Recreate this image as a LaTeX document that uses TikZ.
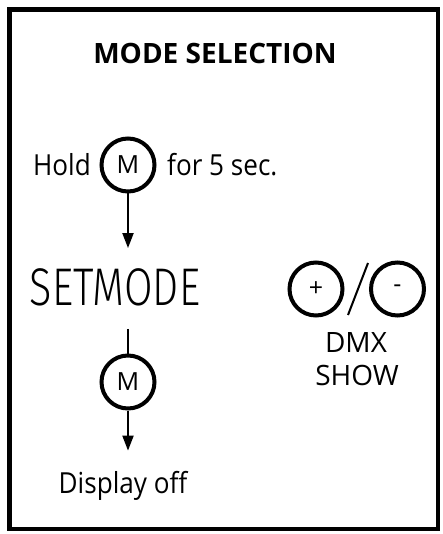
\documentclass[tikz,border=0pt]{standalone}
\usepackage{fontspec}
\setmainfont{Open Sans}
\newfontfamily\narrowfont{Open Sans}[FakeStretch=0.9]
\newfontfamily\lcdfont{Fira Sans Light}[FakeStretch=0.78]
\usetikzlibrary{arrows.meta}
\tikzset{
  btn/.style={circle, draw, line width=4pt, minimum size=53pt, inner sep=0pt},
  btntext/.style={font=\fontsize{25}{25}\selectfont},
  body/.style={font=\narrowfont\fontsize{29}{29}\selectfont, inner sep=0pt},
  label/.style={font=\fontsize{28}{28}\selectfont, inner sep=0pt},
  conn/.style={line width=2pt, -{Triangle[length=15pt,width=11pt]}},
  plainconn/.style={line width=2pt}
}
\begin{document}
\begin{tikzpicture}[x=1pt,y=-1pt]
\useasboundingbox (0,0) rectangle (442,534);
\draw[line width=4.5pt] (9.5,9.5) rectangle (438,529);
\node[font=\bfseries\fontsize{28}{28}\selectfont, inner sep=0pt] (title) at (215,53) {MODE SELECTION};
\node[body, anchor=base west] (hold) at (33,176) {Hold};
\node[btn, btntext] (m1) at (128,165) {M};
\node[body, anchor=base west] (for) at (167,176) {for 5 sec.};
\node[inner sep=0pt, font=\lcdfont\fontsize{53}{53}\selectfont] (set) at (115,287) {SETMODE};
\node[btn, btntext] (m2) at (128,382) {M};
\node[body, anchor=base] (disp) at (123,493) {Display off};
\draw[conn, shorten >=20pt] (m1.south) -- (m1.south |- set.north);
\draw[plainconn, shorten <=23pt] (m1.south |- set.south) -- (m2.north);
\draw[conn, shorten >=20pt] (m2.south) -- (m2.south |- disp.north);
\node[btn, btntext] (plus) at (316,289) {+};
\node[btn, btntext] (minus) at (397.5,289) {-};
\coordinate (sla) at (348,315);
\coordinate (slb) at (368,263);
\draw[line width=2pt] (sla) -- (slb);
\node[label, anchor=base] (dmx) at (356,352) {DMX};
\node[label, anchor=base] (show) at (357,385) {SHOW};
\end{tikzpicture}
\end{document}
